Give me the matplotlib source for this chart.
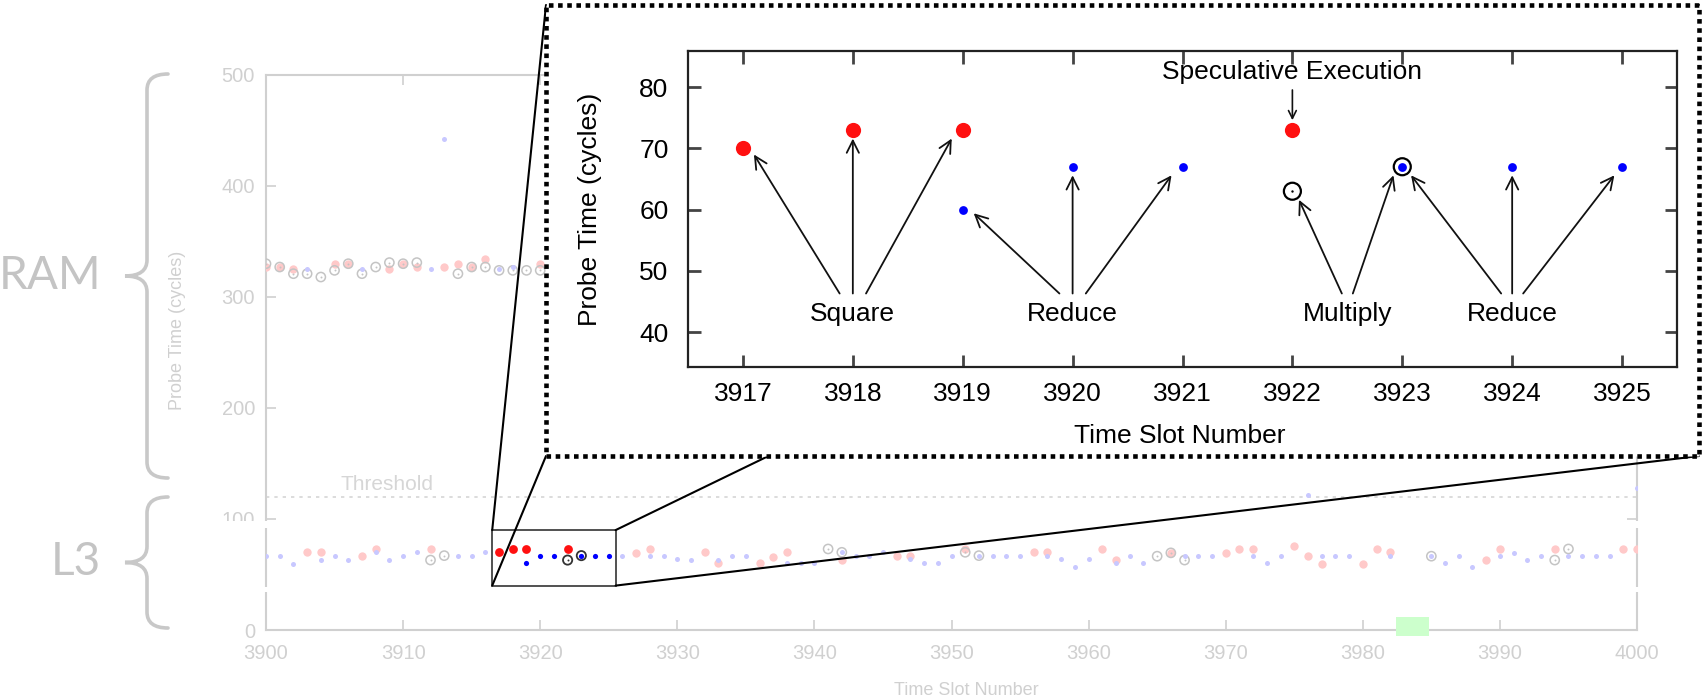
import numpy as np
import matplotlib
matplotlib.use("Agg")
import matplotlib.pyplot as plt
from matplotlib.patches import Rectangle, PathPatch, ConnectionPatch
from matplotlib.path import Path

nan = np.nan

# time slots 3900..4000
slots = np.arange(3900, 4001)

# probe times per slot (cycles); nan = not visible in the figure
square_t = [327, 327, 325, 70, 70, 330, 330, 67, 73, 325,
            330, 327, 73, 327, 330, 327, 334, 70, 73, 73,
            330, nan, 73, nan, nan, nan, nan, 69, 73, nan,
            nan, nan, 70, 60, nan, nan, 60, 66, 70, nan,
            nan, nan, 63, nan, nan, nan, 67, 67, nan, nan,
            nan, 73, nan, nan, nan, nan, 70, 70, nan, nan,
            nan, 73, 63, nan, nan, nan, 69.5, nan, nan, nan,
            69.5, 73, 73, nan, nan, 75.5, 66.5, 59.5, nan, nan,
            59.5, 73, 70, nan, nan, nan, nan, nan, nan, 63,
            73, nan, nan, nan, 73, nan, nan, nan, nan, 73,
            73]
reduce_t = [67, 67, 59.5, 325, 63, 67, 63.5, 325, 70, 63.5,
            67, 70, 325, 442, 67, 67, 70, 325, 327, 60,
            67, 67, nan, 67, 67, 67, 67, nan, 67, 67,
            64, 63.5, nan, 63.5, 67, 67, nan, nan, 60.5, 60.5,
            60, nan, 70, 67, 66.5, 70, nan, 64, 60, 60,
            67, nan, 67, 67, 67, 67, nan, 67, 64, 57,
            64, nan, 60.5, 67, 60, nan, nan, 66.5, 66.5, 66.5,
            nan, nan, 66.5, 60, 66.5, nan, 121.5, 66.5, 66.5, 66.5,
            nan, nan, 66.5, nan, nan, 66.5, 60, 66.5, 56.5, nan,
            66.5, 69.5, 63, 66.5, nan, 66.5, 66.5, 66.5, 66.5, nan,
            127.5]
multiply_t = [330, 327, 321, 321, 318, 324, 330, 321, 327, 331,
              330, 331, 63, 67, 321, 327, 327, 324, 324, 324,
              324, nan, 63, 67, nan, nan, nan, nan, nan, nan,
              nan, nan, nan, nan, nan, nan, nan, nan, nan, nan,
              nan, 73, 70, nan, nan, nan, nan, nan, nan, nan,
              nan, 70, 67, nan, nan, nan, nan, nan, nan, nan,
              nan, nan, nan, nan, nan, 66.5, 69.5, 63, nan, nan,
              nan, nan, nan, nan, nan, nan, nan, nan, nan, nan,
              nan, nan, nan, nan, nan, 66.5, nan, nan, nan, nan,
              nan, nan, nan, nan, 63, 73, nan, nan, nan, nan,
              nan]

threshold = 120
zoom_x = (3916.5, 3925.5)
zoom_y = (40, 90)
gap_slots = (3982.4, 3984.8)

# inset annotations: label, label position, arrow tails -> heads
groups = ["Square", "Reduce", "Multiply", "Reduce"]
group_x = [3918, 3920, 3922.5, 3924]
group_y = 42.9
arrow_tails = [[(3917.88, 46.3), (3918.0, 46.3), (3918.12, 46.3)],
               [(3919.88, 46.3), (3920.0, 46.3), (3920.12, 46.3)],
               [(3922.45, 46.3), (3922.55, 46.3)],
               [(3923.9, 46.3), (3924.0, 46.3), (3924.1, 46.3)]]
arrow_heads = [[(3917.1, 69.0), (3918.0, 71.6), (3918.9, 71.6)],
               [(3919.1, 59.4), (3920.0, 65.6), (3920.9, 65.6)],
               [(3922.06, 61.6), (3922.92, 65.6)],
               [(3923.08, 65.6), (3924.0, 65.6), (3924.93, 65.6)]]

W, H = 1702, 696
fig = plt.figure(figsize=(W / 100, H / 100), dpi=100)
plt.rcParams['font.family'] = ['Liberation Sans', 'DejaVu Sans']


def fpx(x, y):
    # pixel position (from top-left) -> figure fraction
    return (x / W, 1 - y / H)


x = slots
sq = np.array(square_t, dtype=float)
rd = np.array(reduce_t, dtype=float)
mu = np.array(multiply_t, dtype=float)


def in_zoom(v):
    return (x >= zoom_x[0]) & (x <= zoom_x[1]) & (v >= zoom_y[0]) & (v <= zoom_y[1])


# ---------------- main (faded) plot ----------------
ax = fig.add_axes([266 / W, 1 - 630 / H, 1371 / W, 555 / H])
ax.set_xlim(3900, 4000)
ax.set_ylim(0, 500)

ax.scatter(x[~in_zoom(sq)], sq[~in_zoom(sq)], s=36, color='#ffc9c9', lw=0, zorder=3)
ax.scatter(x[~in_zoom(mu)], mu[~in_zoom(mu)], s=44, facecolor='none', edgecolor='#c4c4c4', lw=1.1, zorder=4)
ax.scatter(x[~in_zoom(mu)], mu[~in_zoom(mu)], s=2, color='#c4c4c4', lw=0, zorder=4)
ax.scatter(x[~in_zoom(rd)], rd[~in_zoom(rd)], s=13, color='#c8c8ff', lw=0, zorder=5)

m = in_zoom(sq)
ax.scatter(x[m], sq[m], s=40, color='#ff1010', lw=0, zorder=6)
m = in_zoom(mu)
ax.scatter(x[m], mu[m], s=44, facecolor='none', edgecolor='#333333', lw=1.3, zorder=7)
ax.scatter(x[m], mu[m], s=2, color='#333333', lw=0, zorder=7)
m = in_zoom(rd)
ax.scatter(x[m], rd[m], s=14, color='#0000ff', lw=0, zorder=8)

ax.axhline(threshold, color='#d6d6d6', ls=(0, (2, 3)), lw=1.2, zorder=1)
ax.text(3908.8, 131.5, 'Threshold', ha='center', va='center', fontsize=15, color='#d6d6d6')

ax.add_patch(Rectangle((zoom_x[0], zoom_y[0]), zoom_x[1] - zoom_x[0], zoom_y[1] - zoom_y[0],
                       fill=False, edgecolor='#333333', lw=1.2, zorder=9))
ax.add_patch(Rectangle((gap_slots[0], -5.4), gap_slots[1] - gap_slots[0], 17.1,
                       facecolor='#ccffcc', edgecolor='none', clip_on=False, zorder=10))

ax.set_xticks(np.arange(3900, 4001, 10))
ax.set_yticks(np.arange(0, 501, 100))
ax.tick_params(direction='in', length=7, width=1.2, color='#d0d0d0', labelcolor='#d0d0d0',
               labelsize=14.5, top=True, right=True)
ax.tick_params(axis='x', pad=10)
ax.tick_params(axis='y', pad=8)
for sp in ax.spines.values():
    sp.set_color('#d0d0d0')
    sp.set_linewidth(1.5)
ax.set_xlabel('Time Slot Number', fontsize=13, color='#d0d0d0')
ax.set_ylabel('Probe Time (cycles)', fontsize=13, color='#d0d0d0')
ax.xaxis.set_label_coords(0.511, -0.094)
ax.yaxis.set_label_coords(-0.058, 0.54)

# small white gaps in the side axes
for y0, y1 in [(521, 528), (587, 592)]:
    x0, yy = fpx(215, y1)
    fig.add_artist(Rectangle((x0, yy), (1645 - 215) / W, (y1 - y0) / H, transform=fig.transFigure,
                             facecolor='white', edgecolor='none', zorder=1))


# ---------------- braces and level names ----------------
def brace(x_end, x_mid, x_tip, y_top, y_bot):
    ym = (y_top + y_bot) / 2
    r = 16
    pts = [(x_end, y_top), (x_mid, y_top), (x_mid, y_top + r),
           (x_mid, ym - r), (x_mid, ym), (x_tip, ym),
           (x_mid, ym), (x_mid, ym + r),
           (x_mid, y_bot - r), (x_mid, y_bot), (x_end, y_bot)]
    codes = [Path.MOVETO, Path.CURVE3, Path.CURVE3,
             Path.LINETO, Path.CURVE3, Path.CURVE3,
             Path.CURVE3, Path.CURVE3,
             Path.LINETO, Path.CURVE3, Path.CURVE3]
    path = Path([fpx(*p) for p in pts], codes)
    fig.add_artist(PathPatch(path, transform=fig.transFigure, facecolor='none',
                             edgecolor='#c8c8c8', lw=2.6, capstyle='round'))


brace(168, 147, 125, 74, 478)
brace(168, 147, 125, 497, 628)
fig.text(*fpx(50, 276), 'RAM', fontsize=33, family='Lato', color='#c4c4c4', ha='center', va='center')
fig.text(*fpx(76, 562), 'L3', fontsize=33, family='Lato', color='#c4c4c4', ha='center', va='center')

# ---------------- connector lines ----------------
ins_l, ins_t, ins_r, ins_b = 546, 5, 1699, 456
corners = [((zoom_x[0], zoom_y[1]), (ins_l, ins_t)),
           ((zoom_x[0], zoom_y[0]), (ins_l, ins_b)),
           ((zoom_x[1], zoom_y[1]), (ins_r, ins_t)),
           ((zoom_x[1], zoom_y[0]), (ins_r, ins_b))]
for a, b in corners:
    cp = ConnectionPatch(xyA=a, coordsA=ax.transData, xyB=fpx(*b), coordsB=fig.transFigure,
                         color='black', lw=1.5, zorder=3)
    fig.add_artist(cp)

bx, by = fpx(ins_l, ins_b)
fig.add_artist(Rectangle((bx, by), (ins_r - ins_l) / W, (ins_b - ins_t) / H, transform=fig.transFigure,
                         facecolor='white', edgecolor='black', lw=3.3, ls=(0, (1, 1)), zorder=4))

# ---------------- inset ----------------
ax2 = fig.add_axes([688 / W, 1 - 367 / H, 989 / W, 316 / H], zorder=5)
ax2.set_xlim(3916.5, 3925.5)
ax2.set_ylim(34.3, 85.9)

ax2.scatter(x, sq, s=120, color='#ff1010', lw=0, zorder=3)
ax2.scatter(x, mu, s=150, facecolor='none', edgecolor='black', lw=1.6, zorder=4)
ax2.scatter(x, mu, s=3, color='black', lw=0, zorder=4)
ax2.scatter(x, rd, s=40, color='#0000ff', lw=0, zorder=5)

for name, gx, tails, heads in zip(groups, group_x, arrow_tails, arrow_heads):
    ax2.text(gx, group_y, name, ha='center', va='center', fontsize=19)
    for t, h in zip(tails, heads):
        ax2.annotate('', xy=h, xytext=t,
                     arrowprops=dict(arrowstyle='->', lw=1.3, color='#111111',
                                     mutation_scale=22, shrinkA=0, shrinkB=0))
ax2.annotate('Speculative Execution', xy=(3922, 74.6), xytext=(3922, 82.4),
             ha='center', va='center', fontsize=19,
             arrowprops=dict(arrowstyle='->', lw=1.2, color='#111111',
                             mutation_scale=14, shrinkA=2, shrinkB=0))

ax2.set_xticks(np.arange(3917, 3926))
ax2.set_yticks(np.arange(40, 81, 10))
ax2.tick_params(direction='in', length=9, width=2, color='#444444', labelsize=19,
                top=True, right=True)
ax2.tick_params(axis='x', pad=11)
ax2.tick_params(axis='y', pad=14)
for sp in ax2.spines.values():
    sp.set_linewidth(1.6)
    sp.set_color('#222222')
ax2.set_xlabel('Time Slot Number', fontsize=19)
ax2.set_ylabel('Probe Time (cycles)', fontsize=19)
ax2.xaxis.set_label_coords(0.497, -0.18)
ax2.yaxis.set_label_coords(-0.087, 0.5)

fig.savefig('out.png', dpi=100)
